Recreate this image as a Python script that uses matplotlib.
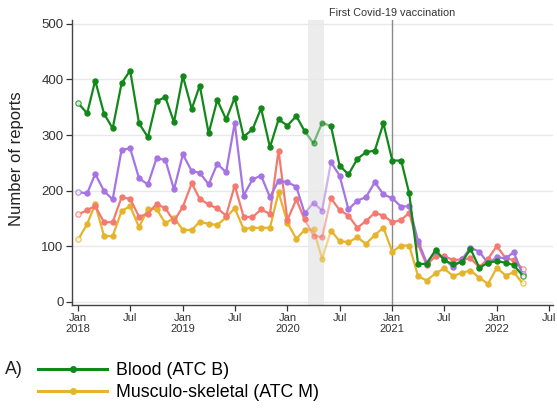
import numpy as np
import pandas as pd
import matplotlib
matplotlib.use("Agg")
import matplotlib.pyplot as plt
from matplotlib.lines import Line2D
import matplotlib.transforms as mtransforms

plt.rcParams["font.family"] = ["Liberation Sans", "DejaVu Sans"]

# Monthly report counts, Jan 2018 - Apr 2022
months = pd.date_range("2018-01-01", periods=52, freq="MS")

blood = [357, 339, 398, 338, 312, 393, 416, 321, 296, 361, 368, 323,
         406, 347, 389, 303, 363, 328, 367, 297, 310, 348, 278, 328,
         317, 334, 307, 285, 322, 316, 245, 229, 257, 269, 272, 321,
         254, 254, 195, 68, 68, 93, 75, 67, 71, 95, 61, 70,
         73, 70, 66, 47]

purple_counts = [197, 195, 230, 199, 184, 273, 276, 222, 211, 258, 255, 202,
                 265, 235, 232, 211, 248, 233, 322, 191, 220, 227, 188, 218,
                 215, 207, 159, 178, 164, 251, 227, 166, 182, 188, 215, 193,
                 186, 171, 172, 109, 70, 91, 77, 62, 76, 97, 90, 69,
                 80, 78, 89, 49]

salmon_counts = [157, 165, 172, 143, 143, 188, 185, 153, 158, 176, 168, 145,
                 171, 213, 185, 175, 168, 155, 209, 153, 152, 166, 158, 272,
                 147, 184, 148, 119, 116, 186, 165, 155, 133, 145, 160, 155,
                 143, 147, 160, 103, 66, 82, 82, 75, 76, 78, 62, 77,
                 100, 78, 75, 59]

musculo = [112, 140, 175, 118, 118, 163, 172, 134, 167, 167, 141, 151,
           129, 129, 144, 140, 138, 152, 168, 131, 133, 133, 133, 197,
           142, 113, 129, 130, 77, 128, 109, 107, 116, 104, 120, 133,
           90, 101, 101, 46, 38, 51, 60, 46, 52, 56, 43, 32,
           61, 47, 53, 33]

# Months shown faded (early pandemic period)
faded_idx = [27, 28]
vaccination_date = pd.Timestamp("2021-01-01")
band_start, band_end = pd.Timestamp("2020-03-13"), pd.Timestamp("2020-05-06")

colors = {
    "purple": "#a774e4",
    "salmon": "#f47a70",
    "yellow": "#e6b42c",
    "green": "#13881a",
}

fig = plt.figure(figsize=(5.57, 4.19), dpi=100)
ax = fig.add_axes([72 / 557, 1 - 305 / 419, 481 / 557, 285 / 419])

ax.axvspan(band_start, band_end, color="#ececec", zorder=0, lw=0)
ax.axvline(vaccination_date, color="#8a8a8a", lw=1.0, zorder=1)


def draw_series(values, color, z):
    vals = np.array(values, dtype=float)
    n = len(vals)
    solid = vals.copy()
    solid[faded_idx] = np.nan
    lo, hi = faded_idx[0] - 1, faded_idx[-1] + 1
    # faded stretch
    ax.plot(months[lo:hi + 1], vals[lo:hi + 1], color=color, lw=1.6,
            alpha=0.55, zorder=z, solid_capstyle="round")
    ax.plot(months[faded_idx], vals[faded_idx], ls="none", marker="o",
            ms=3.6, color=color, alpha=0.55, zorder=z)
    # solid line with filled markers (endpoints drawn open)
    inner = [i for i in range(1, n - 1) if i not in faded_idx]
    ax.plot(months, solid, color=color, lw=1.6, zorder=z + 0.1,
            marker="o", ms=3.6, markevery=inner, solid_joinstyle="round")
    ax.plot(months[[0, n - 1]], vals[[0, n - 1]], ls="none", marker="o",
            ms=3.8, mfc="white", mec=color, mew=0.9, alpha=0.8, zorder=z + 0.2)


draw_series(musculo, colors["yellow"], 2)
draw_series(salmon_counts, colors["salmon"], 3)
draw_series(purple_counts, colors["purple"], 4)
draw_series(blood, colors["green"], 5)

ax.set_ylim(-6, 507)
ax.set_xlim(pd.Timestamp("2017-12-10"), pd.Timestamp("2022-07-16"))
ax.set_yticks([0, 100, 200, 300, 400, 500])
ax.yaxis.grid(True, color="#e8e8e8", lw=1.0)
ax.set_axisbelow(True)

tick_dates = pd.date_range("2018-01-01", "2022-07-01", freq="6MS")
tick_labels = [f"Jan\n{d.year}" if d.month == 1 else "Jul" for d in tick_dates]
ax.set_xticks(tick_dates)
ax.set_xticklabels(tick_labels, fontsize=8, color="#333333", linespacing=1.05)
ax.tick_params(axis="y", labelsize=9.5, colors="#333333", length=4, width=0.9, pad=2)
ax.tick_params(axis="x", length=4, width=0.9, pad=2, colors="#333333")

for side in ("top", "right"):
    ax.spines[side].set_visible(False)
for side in ("left", "bottom"):
    ax.spines[side].set_color("#444444")
    ax.spines[side].set_linewidth(1.0)

ax.set_ylabel("Number of reports", fontsize=12, color="#222222")
ax.yaxis.set_label_coords(-0.1, 0.512)

trans = mtransforms.blended_transform_factory(ax.transData, ax.transAxes)
ax.text(vaccination_date, 1.025, "First Covid-19 vaccination", transform=trans,
        ha="center", va="center", fontsize=7.8, color="#333333")

# Legend
handles = [
    Line2D([], [], color=colors["green"], lw=2.2, marker="o", ms=4,
           mfc=colors["green"], mec=colors["green"]),
    Line2D([], [], color=colors["yellow"], lw=2.2, marker="o", ms=4,
           mfc=colors["yellow"], mec=colors["yellow"]),
]
labels = ["Blood (ATC B)", "Musculo-skeletal (ATC M)"]
fig.legend(handles, labels, loc="upper left",
           bbox_to_anchor=(38 / 557, 1 - 362 / 419), frameon=False,
           fontsize=12.8, handlelength=3.9, handletextpad=0.5,
           labelspacing=0.28, borderpad=0, borderaxespad=0)
fig.text(23 / 557, 1 - 369.6 / 419, "A)", ha="right", va="center",
         fontsize=12.8, color="#222222")

fig.savefig("out.png", dpi=100)
